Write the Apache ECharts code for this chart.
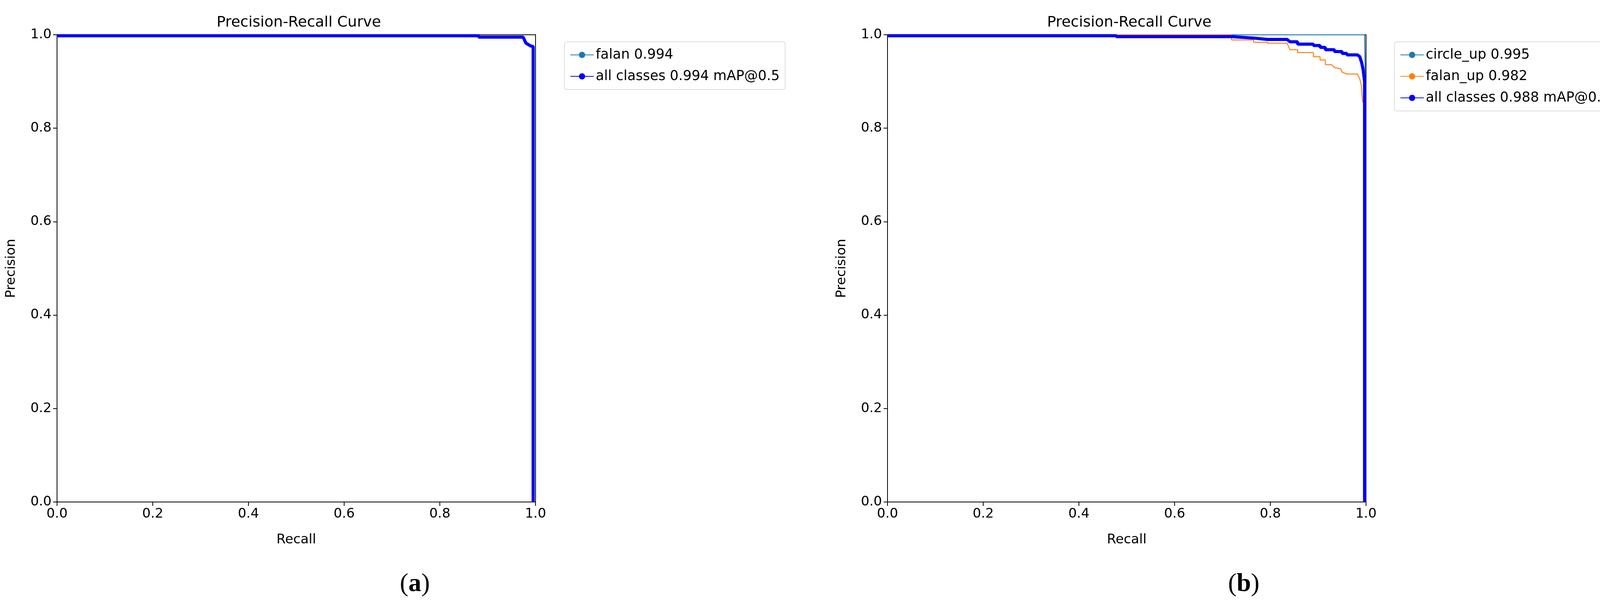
<!DOCTYPE html>
<html>
<head>
    <meta charset="UTF-8">
    <script src="https://cdn.jsdelivr.net/npm/echarts@6.0.0/dist/echarts.min.js"></script>
</head>
<body style="margin:0">
    <div id="main" style="width: 4203px; height: 1541px;"></div>
    <script>
        // [recall, precision] pairs
        const falanA = [[0, 0.998], [0.881, 0.998], [0.881, 0.995], [0.974, 0.995], [0.98, 0.982], [0.99, 0.976], [0.995, 0.975], [0.995, 0]];
        const allA = [[0, 0.998], [0.881, 0.998], [0.881, 0.995], [0.974, 0.995], [0.98, 0.982], [0.99, 0.976], [0.995, 0.975], [0.995, 0]];

        const circleUp = [[0, 1], [0.997, 1], [0.998, 0.93], [0.999, 0]];
        const falanUp = [[0, 1], [0.719, 1], [0.719, 0.989], [0.765, 0.989], [0.765, 0.984], [0.794, 0.984], [0.794, 0.982],
            [0.835, 0.982], [0.841, 0.968], [0.857, 0.968], [0.857, 0.962], [0.89, 0.962], [0.89, 0.953], [0.904, 0.953],
            [0.904, 0.946], [0.915, 0.946], [0.915, 0.936], [0.928, 0.936], [0.934, 0.93], [0.947, 0.927], [0.95, 0.92],
            [0.96, 0.916], [0.982, 0.916], [0.987, 0.905], [0.99, 0.893], [0.993, 0.855]];
        const allB = [[0, 0.998], [0.478, 0.998], [0.478, 0.996], [0.719, 0.996], [0.765, 0.993], [0.794, 0.99], [0.835, 0.99],
            [0.841, 0.985], [0.857, 0.985], [0.857, 0.98], [0.89, 0.98], [0.89, 0.977], [0.904, 0.977], [0.904, 0.973],
            [0.915, 0.973], [0.915, 0.968], [0.934, 0.968], [0.934, 0.964], [0.95, 0.964], [0.95, 0.96], [0.96, 0.96],
            [0.96, 0.957], [0.982, 0.957], [0.987, 0.953], [0.991, 0.94], [0.994, 0.925], [0.997, 0.9], [0.997, 0]];

        const tickFmt = v => v.toFixed(1);
        const font = 'DejaVu Sans';
        const thin = 2.5, thick = 8;

        function axes(idx) {
            return {
                x: {
                    gridIndex: idx, type: 'value', min: 0, max: 1, interval: 0.2,
                    name: 'Recall', nameLocation: 'middle', nameGap: 80,
                    nameTextStyle: { fontFamily: font, fontSize: 34, color: '#000' },
                    axisLine: { show: false }, splitLine: { show: false },
                    axisTick: { show: true, length: 10, lineStyle: { color: '#000', width: 2 } },
                    axisLabel: { formatter: tickFmt, fontFamily: font, fontSize: 34, color: '#000', margin: 14 }
                },
                y: {
                    gridIndex: idx, type: 'value', min: 0, max: 1, interval: 0.2,
                    name: 'Precision', nameLocation: 'middle', nameGap: 100,
                    nameTextStyle: { fontFamily: font, fontSize: 34, color: '#000' },
                    axisLine: { show: false }, splitLine: { show: false },
                    axisTick: { show: true, length: 10, lineStyle: { color: '#000', width: 2 } },
                    axisLabel: { formatter: tickFmt, fontFamily: font, fontSize: 34, color: '#000', margin: 14 }
                }
            };
        }
        const a0 = axes(0), a1 = axes(1);

        function line(name, data, color, width, idx) {
            return {
                name: name, type: 'line', data: data, xAxisIndex: idx, yAxisIndex: idx,
                symbol: 'none', lineStyle: { color: color, width: width }, itemStyle: { color: color }
            };
        }
        const legendBase = {
            orient: 'vertical', itemWidth: 60, itemHeight: 20, itemGap: 20, padding: [16, 14],
            borderColor: '#ddd', borderWidth: 2, borderRadius: 6,
            textStyle: { fontFamily: font, fontSize: 35, color: '#000' }
        };
        const capStyle = { fontFamily: 'Liberation Serif', fontSize: 66, fontWeight: 'normal', color: '#000', rich: { b: { fontFamily: 'Liberation Serif', fontSize: 66, fontWeight: 'bold' } } };

        const myChart = echarts.init(document.getElementById('main'));
        const option = {
            animation: false,
            backgroundColor: '#fff',
            title: [
                { text: 'Precision-Recall Curve', left: 760, top: 34, textAlign: 'center', textStyle: { fontFamily: font, fontSize: 38, fontWeight: 'normal', color: '#000' } },
                { text: 'Precision-Recall Curve', left: 2886, top: 34, textAlign: 'center', textStyle: { fontFamily: font, fontSize: 38, fontWeight: 'normal', color: '#000' } },
                { text: '({b|a})', left: 1057, top: 1458, textAlign: 'center', textStyle: capStyle },
                { text: '({b|b})', left: 3179, top: 1458, textAlign: 'center', textStyle: capStyle }
            ],
            legend: [
                Object.assign({}, legendBase, { left: 1445, top: 107, data: ['falan 0.994', 'all classes 0.994 mAP@0.5'] }),
                Object.assign({}, legendBase, { left: 3570, top: 107, data: ['circle_up 0.995', 'falan_up 0.982', 'all classes 0.988 mAP@0.5'] })
            ],
            grid: [
                { left: 146, width: 1225, top: 89, height: 1196, show: true, borderColor: '#000', borderWidth: 2, backgroundColor: 'transparent' },
                { left: 2272, width: 1225, top: 89, height: 1196, show: true, borderColor: '#000', borderWidth: 2, backgroundColor: 'transparent' }
            ],
            xAxis: [a0.x, a1.x],
            yAxis: [a0.y, a1.y],
            series: [
                line('falan 0.994', falanA, '#1f77b4', thin, 0),
                line('all classes 0.994 mAP@0.5', allA, '#0000ff', thick, 0),
                line('circle_up 0.995', circleUp, '#1f77b4', thin, 1),
                line('falan_up 0.982', falanUp, '#ff7f0e', thin, 1),
                line('all classes 0.988 mAP@0.5', allB, '#0000ff', thick, 1)
            ]
        };
        option && myChart.setOption(option);
    </script>
</body>
</html>
